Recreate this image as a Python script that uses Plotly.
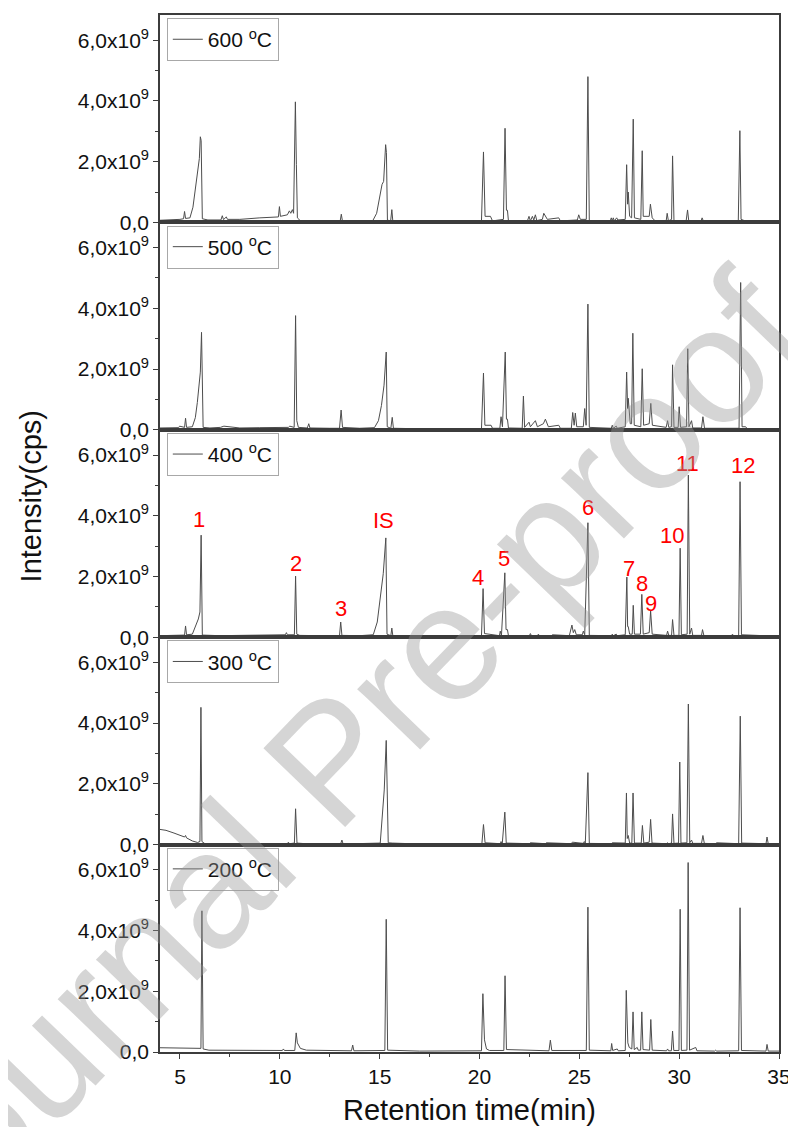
import plotly.graph_objects as go
from plotly.subplots import make_subplots

SCALE = 1e9          # intensities below are in units of 1e9 cps
X_RANGE = [4, 35]
Y_TOP = 6.83

panel_names = ["600 <sup>o</sup>C", "500 <sup>o</sup>C", "400 <sup>o</sup>C",
               "300 <sup>o</sup>C", "200 <sup>o</sup>C"]

# ---- 600 °C ----
T600 = [4.0, 4.5, 5.0, 5.18, 5.23, 5.28, 5.5, 5.65, 5.8, 5.92, 5.97, 6.02, 6.06, 6.12, 6.4,
        7.05, 7.12, 7.18, 7.32, 7.38, 8.0, 9.0, 9.93, 9.98, 10.03, 10.38, 10.48, 10.55, 10.63,
        10.69, 10.78, 10.83, 10.88, 11.05, 12.0, 13.02, 13.08, 13.14, 14.0, 14.65, 14.85, 15.0,
        15.12, 15.2, 15.3, 15.34, 15.39, 15.55, 15.61, 15.66, 16.5, 18.0, 19.5,
        20.1, 20.2, 20.28, 20.55, 20.65, 21.2, 21.28, 21.35, 21.4, 21.45, 22.4, 22.48, 22.55,
        22.65, 22.72, 22.8, 22.87, 23.15, 23.22, 23.4, 23.97, 24.05, 24.9, 24.97, 25.05, 25.35,
        25.43, 25.5, 26.55, 26.6, 26.65, 26.7, 26.75, 26.87, 26.93, 27.3, 27.37, 27.42, 27.45,
        27.52, 27.62, 27.7, 27.76, 28.08, 28.15, 28.2, 28.5, 28.56, 28.65, 28.8, 29.35, 29.4,
        29.46, 29.62, 29.67, 29.74, 30.35, 30.42, 30.48, 31.1, 31.15, 31.22, 32.96, 33.04,
        33.1, 33.3, 34.0, 35.0]
I600 = [0.07, 0.08, 0.1, 0.12, 0.36, 0.13, 0.15, 0.5, 1.2, 1.9, 2.1, 2.82, 2.7, 0.12, 0.08,
        0.08, 0.22, 0.09, 0.18, 0.1, 0.1, 0.15, 0.18, 0.52, 0.2, 0.25, 0.38, 0.3, 0.42,
        0.3, 3.97, 1.9, 0.15, 0.04, 0.03, 0.03, 0.27, 0.03, 0.03, 0.05, 0.3, 0.8,
        1.25, 1.35, 2.56, 2.3, 0.08, 0.04, 0.42, 0.04, 0.02, 0.02, 0.02,
        0.05, 2.32, 0.2, 0.2, 0.05, 0.1, 3.1, 0.4, 0.4, 0.05, 0.05, 0.2, 0.05,
        0.2, 0.08, 0.25, 0.06, 0.1, 0.3, 0.1, 0.15, 0.05, 0.08, 0.25, 0.1, 0.1,
        4.8, 0.05, 0.05, 0.15, 0.05, 0.15, 0.05, 0.15, 0.08, 0.1, 1.9, 0.6, 1.0,
        0.2, 0.15, 3.4, 0.15, 0.1, 2.36, 0.2, 0.2, 0.6, 0.15, 0.05, 0.05, 0.3,
        0.05, 0.1, 2.19, 0.05, 0.05, 0.41, 0.05, 0.05, 0.15, 0.03, 0.03, 3.02,
        0.1, 0.05, 0.02, 0.02]

# ---- 500 °C ----
T500 = [4.0, 4.8, 4.93, 4.98, 5.23, 5.28, 5.33, 5.62, 5.77, 5.87, 5.97, 6.02, 6.08, 6.12, 6.16,
        6.5, 7.03, 7.2, 8.0, 9.0, 10.0, 10.43, 10.5, 10.72, 10.79, 10.85, 10.93, 11.38, 11.45,
        11.51, 12.5, 12.99, 13.07, 13.14, 14.0, 14.74, 14.94, 15.09, 15.22, 15.33, 15.38, 15.56,
        15.63, 15.69, 16.5, 18.0, 19.0,
        20.1, 20.2, 20.27, 20.58, 20.65, 21.02, 21.08, 21.15, 21.29, 21.35, 21.4, 21.45, 22.14,
        22.2, 22.26, 22.48, 22.55, 22.8, 22.9, 23.2, 23.3, 23.45, 23.97, 24.05, 24.6, 24.67,
        24.74, 24.8, 24.87, 25.2, 25.27, 25.34, 25.43, 25.5, 26.6, 26.65, 26.7, 26.85, 26.9,
        27.3, 27.37, 27.42, 27.45, 27.55, 27.62, 27.68, 27.75, 28.08, 28.15, 28.22, 28.5, 28.58,
        28.66, 29.35, 29.42, 29.48, 29.62, 29.67, 29.74, 29.95, 30.0, 30.07, 30.37, 30.43,
        30.49, 30.62, 30.68, 31.12, 31.19, 31.27, 33.0, 33.08, 33.15, 33.33, 33.4, 35.0]
I500 = [0.06, 0.07, 0.07, 0.12, 0.08, 0.38, 0.08, 0.1, 0.4, 0.9, 1.5, 1.9, 3.21, 2.0, 0.08,
        0.06, 0.08, 0.12, 0.06, 0.07, 0.08, 0.08, 0.12, 0.08, 3.76, 0.3, 0.08, 0.06, 0.2,
        0.06, 0.05, 0.05, 0.65, 0.08, 0.05, 0.07, 0.3, 0.8, 1.47, 2.56, 0.1, 0.05,
        0.41, 0.05, 0.04, 0.03, 0.03,
        0.03, 1.87, 0.15, 0.15, 0.05, 0.05, 0.43, 0.1, 2.56, 0.35, 0.35, 0.06, 0.05,
        1.11, 0.08, 0.25, 0.1, 0.3, 0.1, 0.2, 0.35, 0.1, 0.15, 0.05, 0.05, 0.57,
        0.15, 0.55, 0.1, 0.1, 0.7, 0.15, 4.14, 0.08, 0.05, 0.15, 0.05, 0.12, 0.05,
        0.1, 1.9, 0.7, 1.04, 0.2, 0.2, 3.18, 0.15, 0.1, 2.01, 0.15, 0.2, 0.87,
        0.15, 0.08, 0.3, 0.08, 0.1, 2.14, 0.08, 0.08, 0.76, 0.08, 0.1, 2.67,
        0.1, 0.3, 0.06, 0.06, 0.43, 0.05, 0.05, 4.85, 0.1, 0.1, 0.04, 0.03]

# ---- 400 °C ----
T400 = [4.0, 5.0, 5.23, 5.28, 5.33, 5.62, 5.78, 5.92, 6.0, 6.06, 6.12, 7.0, 8.0, 9.0, 10.0,
        10.28, 10.33, 10.38, 10.73, 10.79, 10.85, 11.0, 12.0, 12.99, 13.05, 13.11, 14.0, 14.68,
        14.88, 15.03, 15.13, 15.18, 15.31, 15.37, 15.56, 15.61, 15.66, 17.0, 19.0,
        20.1, 20.18, 20.25, 21.0, 21.04, 21.1, 21.27, 21.33, 21.4, 21.45, 22.5, 22.55, 22.6,
        22.9, 22.95, 23.0, 23.6, 23.65, 24.5, 24.63, 24.7, 24.77, 24.85, 25.15, 25.2, 25.27,
        25.43, 25.5, 26.6, 26.65, 26.7, 26.85, 26.9, 27.3, 27.38, 27.42, 27.45, 27.52, 27.65,
        27.7, 27.76, 28.06, 28.13, 28.2, 28.5, 28.57, 28.65, 29.37, 29.42, 29.48, 29.62, 29.67,
        29.74, 29.99, 30.05, 30.11, 30.4, 30.46, 30.53, 30.62, 30.68, 31.12, 31.17, 31.24,
        32.62, 32.67, 32.72, 32.98, 33.05, 33.12, 35.0]
I400 = [0.05, 0.06, 0.07, 0.37, 0.08, 0.1, 0.35, 0.6, 0.83, 3.36, 0.07, 0.05, 0.06, 0.07, 0.08,
        0.08, 0.15, 0.08, 0.08, 2.01, 0.1, 0.06, 0.05, 0.05, 0.5, 0.06, 0.05, 0.08,
        0.5, 1.3, 1.95, 2.09, 3.27, 0.1, 0.05, 0.3, 0.05, 0.04, 0.04,
        0.04, 1.6, 0.12, 0.05, 0.2, 0.05, 2.12, 0.25, 0.25, 0.05, 0.05, 0.12, 0.05,
        0.05, 0.1, 0.05, 0.05, 0.08, 0.05, 0.4, 0.15, 0.25, 0.08, 0.08, 0.2, 0.08,
        3.77, 0.06, 0.05, 0.1, 0.05, 0.1, 0.05, 0.08, 1.98, 0.35, 0.35, 0.1, 0.1,
        1.05, 0.1, 0.1, 1.41, 0.1, 0.15, 0.86, 0.1, 0.06, 0.2, 0.06, 0.06, 0.58,
        0.06, 0.06, 2.93, 0.08, 0.1, 5.34, 0.1, 0.3, 0.06, 0.06, 0.25, 0.05,
        0.05, 0.1, 0.05, 0.05, 5.12, 0.08, 0.03]

# ---- 300 °C ----
T300 = [4.0, 4.3, 4.7, 5.0, 5.23, 5.28, 5.33, 5.62, 5.88, 6.0, 6.05, 6.1, 6.25, 8.0, 10.38,
        10.43, 10.48, 10.73, 10.79, 10.86, 11.5, 13.05, 13.11, 13.17, 15.03, 15.23, 15.33,
        15.43, 15.63, 17.0,
        20.12, 20.2, 20.28, 21.04, 21.08, 21.14, 21.27, 21.34, 22.5, 22.55, 23.3, 23.35, 24.6,
        24.65, 25.2, 25.25, 25.3, 25.43, 25.5, 26.6, 26.65, 27.3, 27.36, 27.4, 27.45, 27.52,
        27.63, 27.69, 27.76, 28.1, 28.16, 28.23, 28.5, 28.57, 28.64, 29.37, 29.42, 29.47,
        29.62, 29.67, 29.74, 29.97, 30.03, 30.09, 30.39, 30.46, 30.53, 30.62, 30.68, 31.12,
        31.19, 31.26, 31.83, 31.88, 32.98, 33.06, 33.13, 34.35, 34.4, 34.46, 35.0]
I300 = [0.5, 0.47, 0.38, 0.3, 0.25, 0.3, 0.22, 0.12, 0.07, 0.1, 4.52, 0.1, 0.03, 0.03, 0.03,
        0.08, 0.03, 0.05, 1.18, 0.05, 0.02, 0.03, 0.15, 0.02, 0.05, 1.8, 3.43,
        0.06, 0.05, 0.02,
        0.03, 0.66, 0.06, 0.03, 0.1, 0.03, 1.07, 0.05, 0.03, 0.06, 0.03, 0.06, 0.03,
        0.08, 0.04, 0.1, 0.04, 2.37, 0.04, 0.03, 0.06, 0.05, 1.7, 0.2, 0.3, 0.05,
        0.05, 1.7, 0.05, 0.05, 0.63, 0.05, 0.08, 0.83, 0.05, 0.03, 0.06, 0.03,
        0.05, 1.01, 0.04, 0.05, 2.72, 0.05, 0.06, 4.63, 0.06, 0.15, 0.04, 0.04,
        0.3, 0.04, 0.03, 0.06, 0.03, 4.23, 0.05, 0.03, 0.25, 0.03, 0.03]

# ---- 200 °C ----
T200 = [4.0, 5.0, 6.0, 6.05, 6.1, 6.16, 6.45, 8.0, 10.13, 10.18, 10.23, 10.75, 10.82, 10.88,
        11.03, 11.33, 13.0, 13.59, 13.65, 13.71, 15.26, 15.33, 15.4, 17.0,
        20.1, 20.17, 20.25, 20.35, 20.5, 21.22, 21.28, 21.35, 23.48, 23.55, 23.62, 25.35,
        25.43, 25.5, 26.58, 26.62, 26.67, 26.9, 26.95, 27.3, 27.35, 27.39, 27.43, 27.5, 27.63,
        27.69, 27.75, 27.9, 27.95, 28.07, 28.13, 28.19, 28.52, 28.58, 28.65, 29.37, 29.42,
        29.47, 29.61, 29.67, 29.73, 29.99, 30.05, 30.11, 30.39, 30.45, 30.52, 30.83, 30.89,
        31.78, 31.83, 31.88, 32.98, 33.05, 33.12, 34.35, 34.4, 34.46, 35.0]
I200 = [0.14, 0.12, 0.1, 0.12, 4.65, 0.1, 0.06, 0.05, 0.05, 0.1, 0.05, 0.05, 0.63, 0.3,
        0.12, 0.06, 0.04, 0.04, 0.23, 0.04, 0.05, 4.37, 0.06, 0.03,
        0.04, 1.92, 0.4, 0.1, 0.05, 0.05, 2.51, 0.08, 0.04, 0.39, 0.05, 0.05,
        4.77, 0.06, 0.04, 0.28, 0.05, 0.1, 0.04, 0.05, 2.03, 1.2, 0.3, 0.15, 0.1,
        1.32, 0.08, 0.15, 0.06, 0.06, 1.32, 0.08, 0.06, 1.07, 0.06, 0.04, 0.1,
        0.04, 0.04, 0.69, 0.05, 0.05, 4.7, 0.05, 0.06, 6.24, 0.06, 0.15, 0.04,
        0.03, 0.06, 0.03, 0.04, 4.75, 0.05, 0.03, 0.25, 0.03, 0.03]

# ---- peak labels in the 400 °C panel ----
peak_labels = ["1", "2", "3", "IS", "4", "5", "6", "7", "8", "9", "10", "11", "12"]
label_t = [5.96, 10.83, 13.07, 15.2, 19.94, 21.21, 25.42, 27.5, 28.16, 28.58, 29.66, 30.43, 33.21]
label_v = [3.86, 2.42, 0.93, 3.85, 1.95, 2.58, 4.26, 2.25, 1.76, 1.1, 3.36, 5.72, 5.67]

y_tickvals = [0, 2, 4, 6]
y_ticktext = ["0,0", "2,0x10<sup>9</sup>", "4,0x10<sup>9</sup>", "6,0x10<sup>9</sup>"]

FONT = 'Arial, "Liberation Sans", sans-serif'
LINE_COL = "#3c3c3c"
TXT_COL = "#111111"

series = [(T600, I600), (T500, I500), (T400, I400), (T300, I300), (T200, I200)]

fig = make_subplots(rows=5, cols=1, shared_xaxes=True, vertical_spacing=0)

layout_legends = {}
for k, (t, v) in enumerate(series):
    lname = "legend" if k == 0 else f"legend{k+1}"
    fig.add_trace(go.Scatter(x=t, y=[a * SCALE for a in v], mode="lines",
                             line=dict(color="#4d4d4d", width=1),
                             name=panel_names[k], legend=lname, showlegend=True),
                  row=k + 1, col=1)
    layout_legends[lname] = dict(
        x=0.011, y=1 - 0.2 * k - 0.003, xanchor="left", yanchor="top",
        bordercolor="#a8a8a8", borderwidth=1, bgcolor="white",
        font=dict(size=21, color=TXT_COL, family=FONT),
        itemwidth=30, tracegroupgap=0)

fig.update_layout(**layout_legends)

for r in range(1, 6):
    xa = dict(range=X_RANGE, showline=True, mirror=True, linecolor=LINE_COL, linewidth=1.6,
              showgrid=False, zeroline=False)
    if r == 5:
        xa.update(ticks="outside", tick0=0, dtick=5, ticklen=5, tickwidth=1, tickcolor=LINE_COL,
                  showticklabels=True, tickfont=dict(size=21, color=TXT_COL, family=FONT),
                  minor=dict(ticks="outside", dtick=2.5, tick0=0, ticklen=3, tickcolor=LINE_COL))
    else:
        xa.update(ticks="", showticklabels=False)
    fig.update_xaxes(row=r, col=1, **xa)
    fig.update_yaxes(row=r, col=1, range=[0, Y_TOP * SCALE], showline=True, mirror=True,
                     linecolor=LINE_COL, linewidth=1.6, showgrid=False, zeroline=False,
                     tickmode="array", tickvals=[a * SCALE for a in y_tickvals],
                     ticktext=y_ticktext, ticks="outside", ticklen=5, tickwidth=1,
                     tickcolor=LINE_COL, tickfont=dict(size=21, color=TXT_COL, family=FONT),
                     minor=dict(ticks="outside", tick0=0, dtick=SCALE, ticklen=3,
                                tickcolor=LINE_COL))

annotations = []
for lab, t, v in zip(peak_labels, label_t, label_v):
    annotations.append(dict(x=t, y=v * SCALE, xref="x3", yref="y3", text=lab, showarrow=False,
                            font=dict(size=22, color="#ff0000", family=FONT),
                            xanchor="center", yanchor="middle"))

annotations.append(dict(x=-0.208, y=0.536, xref="paper", yref="paper", text="Intensity(cps)",
                        textangle=-90, showarrow=False,
                        font=dict(size=29, color=TXT_COL, family=FONT),
                        xanchor="center", yanchor="middle"))
annotations.append(dict(x=0.5, y=-0.056, xref="paper", yref="paper",
                        text="Retention time(min)", showarrow=False,
                        font=dict(size=29, color=TXT_COL, family=FONT),
                        xanchor="center", yanchor="middle"))
# watermark
annotations.append(dict(x=0.274, y=0.281, xref="paper", yref="paper", text="Journal Pre-proof",
                        textangle=-46, showarrow=False,
                        font=dict(size=165, color="rgba(150,150,150,0.4)", family=FONT),
                        xanchor="center", yanchor="middle"))

# the page places the figure 8 px from its top-left corner; size/margins compensate
fig.update_layout(width=788, height=1119,
                  margin=dict(l=152, r=15, t=5, b=75),
                  paper_bgcolor="white", plot_bgcolor="white",
                  font=dict(family=FONT),
                  annotations=annotations)

fig.write_html("out.html")
